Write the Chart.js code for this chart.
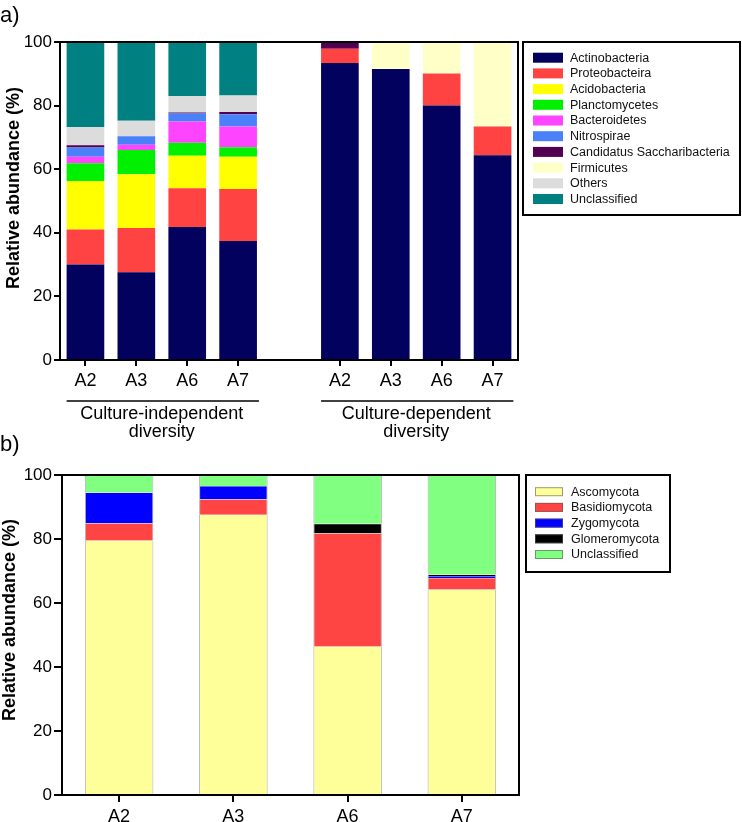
<!DOCTYPE html>
<html>
<head>
<meta charset="utf-8">
<script src="https://cdn.jsdelivr.net/npm/chart.js@4.4.1/dist/chart.umd.min.js"></script>
<style>
  html, body { margin: 0; padding: 0; background: #fff; }
  #wrapA { position: absolute; left: 0; top: 0; }
  #wrapB { position: absolute; left: 0; top: 425px; }
</style>
</head>
<body>
<div id="wrapA"><canvas id="bacteria-chart" width="742" height="445"></canvas></div>
<div id="wrapB"><canvas id="fungi-chart" width="742" height="397"></canvas></div>
<script>
const F = "'Liberation Sans', Arial, sans-serif";
Chart.defaults.font.family = F;
Chart.defaults.color = "#000";

// panel a data (blank category separates the two groups)
const bacteriaLabels = ["A2", "A3", "A6", "A7", "", "A2", "A3", "A6", "A7"];
const actinobacteria = [30, 27.6, 41.8, 37.4, null, 93.4, 91.5, 80, 64.4];
const proteobacteria = [11, 13.9, 12.2, 16.4, null, 4.5, 0, 10.1, 9];
const acidobacteria = [15.3, 16.9, 10.2, 10.1, null, 0, 0, 0, 0];
const planctomycetes = [5.6, 7.6, 4.1, 3.0, null, 0, 0, 0, 0];
const bacteroidetes = [2, 1.7, 6.7, 6.5, null, 0, 0, 0, 0];
const nitrospirae = [2.9, 2.7, 2.5, 3.9, null, 0, 0, 0, 0];
const candidatus = [0.7, 0, 0.3, 0.7, null, 2.1, 0, 0, 0];
const firmicutes = [0, 0, 0, 0, null, 0, 8.5, 9.9, 26.6];
const othersBac = [5.8, 4.8, 5.2, 5.2, null, 0, 0, 0, 0];
const unclassifiedBac = [26.7, 24.8, 17, 16.8, null, 0, 0, 0, 0];
const groupNames = [["Culture-independent", "diversity"], ["Culture-dependent", "diversity"]];

// panel b data
const fungiLabels = ["A2", "A3", "A6", "A7"];
const ascomycota = [79.5, 87.6, 46.4, 64.2];
const basidiomycota = [5.4, 4.8, 35.4, 3.6];
const zygomycota = [9.6, 4.2, 0, 0.6];
const glomeromycota = [0, 0, 3, 0.5];
const unclassifiedFun = [5.5, 3.4, 15.2, 31.1];

const yTicks = [0, 20, 40, 60, 80, 100];

const bacteriaData = {
  labels: bacteriaLabels,
  datasets: [
    { label: "Actinobacteria", data: actinobacteria, backgroundColor: "#02025e" },
    { label: "Proteobacteira", data: proteobacteria, backgroundColor: "#ff4242" },
    { label: "Acidobacteria", data: acidobacteria, backgroundColor: "#ffff00" },
    { label: "Planctomycetes", data: planctomycetes, backgroundColor: "#00f000" },
    { label: "Bacteroidetes", data: bacteroidetes, backgroundColor: "#ff44ff" },
    { label: "Nitrospirae", data: nitrospirae, backgroundColor: "#4a80f8" },
    { label: "Candidatus Saccharibacteria", data: candidatus, backgroundColor: "#520052" },
    { label: "Firmicutes", data: firmicutes, backgroundColor: "#ffffc8" },
    { label: "Others", data: othersBac, backgroundColor: "#dcdcdc" },
    { label: "Unclassified", data: unclassifiedBac, backgroundColor: "#008080" },
  ],
};

const fungiData = {
  labels: fungiLabels,
  datasets: [
    { label: "Ascomycota", data: ascomycota, backgroundColor: "#ffff99" },
    { label: "Basidiomycota", data: basidiomycota, backgroundColor: "#ff4444" },
    { label: "Zygomycota", data: zygomycota, backgroundColor: "#0000ff" },
    { label: "Glomeromycota", data: glomeromycota, backgroundColor: "#000000" },
    { label: "Unclassified", data: unclassifiedFun, backgroundColor: "#80ff80" },
  ],
};

// shared helpers for the drawn extras
function drawFrame(ctx, area) {
  ctx.save();
  ctx.strokeStyle = "#000";
  ctx.lineWidth = 2;
  ctx.beginPath();
  ctx.moveTo(area.left, area.top);
  ctx.lineTo(area.right, area.top);
  ctx.lineTo(area.right, area.bottom);
  ctx.stroke();
  ctx.restore();
}

function drawYTitle(ctx, x, y) {
  ctx.save();
  ctx.translate(x, y);
  ctx.rotate(-Math.PI / 2);
  ctx.font = "bold 18px " + F;
  ctx.fillStyle = "#000";
  ctx.textAlign = "center";
  ctx.textBaseline = "middle";
  ctx.fillText("Relative abundance (%)", 0, 0);
  ctx.restore();
}

function drawLegend(ctx, chart, box, sw) {
  ctx.save();
  ctx.strokeStyle = "#000";
  ctx.lineWidth = 2;
  ctx.strokeRect(box.x, box.y, box.w, box.h);
  ctx.font = "12.5px " + F;
  ctx.textBaseline = "middle";
  chart.data.datasets.forEach((ds, i) => {
    const cy = box.firstY + i * 15.7;
    ctx.fillStyle = ds.backgroundColor;
    ctx.fillRect(sw.x, cy - sw.h / 2, sw.w, sw.h);
    if (sw.border) {
      ctx.strokeStyle = "rgba(90,90,90,0.6)";
      ctx.lineWidth = 1;
      ctx.strokeRect(sw.x + 0.5, cy - sw.h / 2 + 0.5, sw.w - 1, sw.h - 1);
    }
    ctx.fillStyle = "#111";
    ctx.fillText(ds.label, sw.textX, cy + 0.5);
  });
  ctx.restore();
}

const decorA = {
  id: "decorA",
  afterDraw(chart) {
    const ctx = chart.ctx;
    const area = chart.chartArea;
    drawFrame(ctx, area);
    drawYTitle(ctx, 14, 188);

    ctx.save();
    ctx.fillStyle = "#000";
    ctx.font = "22px " + F;
    ctx.textBaseline = "middle";
    ctx.fillText("a)", 0, 16);

    // group brackets under the axis
    const bars = chart.getDatasetMeta(0).data;
    [[0, 3], [5, 8]].forEach((g, gi) => {
      const x1 = bars[g[0]].x - bars[g[0]].width / 2;
      const x2 = bars[g[1]].x + bars[g[1]].width / 2;
      ctx.strokeStyle = "#000";
      ctx.lineWidth = 1.5;
      ctx.beginPath();
      ctx.moveTo(x1, 401);
      ctx.lineTo(x2 + 2, 401);
      ctx.stroke();
      ctx.font = "18px " + F;
      ctx.textAlign = "center";
      ctx.fillText(groupNames[gi][0], (x1 + x2) / 2, 414);
      ctx.fillText(groupNames[gi][1], (x1 + x2) / 2, 432);
    });
    ctx.restore();

    drawLegend(ctx, chart, { x: 523, y: 42, w: 217, h: 173, firstY: 57.7 },
      { x: 533, w: 30, h: 10, textX: 570, border: false });
  },
};

const decorB = {
  id: "decorB",
  afterDraw(chart) {
    const ctx = chart.ctx;
    const area = chart.chartArea;
    drawFrame(ctx, area);
    drawYTitle(ctx, 10, 195);

    ctx.save();
    ctx.fillStyle = "#000";
    ctx.font = "22px " + F;
    ctx.textBaseline = "middle";
    ctx.fillText("b)", 0, 20);
    ctx.restore();

    drawLegend(ctx, chart, { x: 526, y: 50, w: 144, h: 97, firstY: 66.7 },
      { x: 535, w: 28, h: 9, textX: 571, border: true });
  },
};

function axisOptions(labels, xH, yW, tickX, tickY, yPad) {
  return {
    x: {
      stacked: true,
      grid: {
        drawOnChartArea: false,
        offset: false,
        tickLength: tickX,
        lineWidth: 2,
        tickColor: (c) => (labels[c.index] ? "#000" : "rgba(0,0,0,0)"),
      },
      border: { color: "#000", width: 2 },
      ticks: { font: { size: 18 }, padding: 4, maxRotation: 0, autoSkip: false },
      afterFit(s) { s.height = xH; },
    },
    y: {
      stacked: true,
      min: 0,
      max: 100,
      afterBuildTicks(s) { s.ticks = yTicks.map((v) => ({ value: v })); },
      grid: { drawOnChartArea: false, tickLength: tickY, lineWidth: 2, tickColor: "#000" },
      border: { color: "#000", width: 2 },
      ticks: { font: { size: 17 }, padding: yPad },
      afterFit(s) { s.width = yW; },
    },
  };
}

const bacteriaChart = new Chart(document.getElementById("bacteria-chart"), {
  type: "bar",
  data: bacteriaData,
  options: {
    responsive: false,
    animation: false,
    layout: { padding: { left: 0, top: 42, right: 224, bottom: 0 } },
    datasets: { bar: { categoryPercentage: 1, barPercentage: 0.74, borderWidth: 0 } },
    plugins: { legend: { display: false }, tooltip: { enabled: false } },
    scales: axisOptions(bacteriaLabels, 85, 60, 6, 6, 2),
  },
  plugins: [decorA],
});

const fungiChart = new Chart(document.getElementById("fungi-chart"), {
  type: "bar",
  data: fungiData,
  options: {
    responsive: false,
    animation: false,
    layout: { padding: { left: 0, top: 50, right: 223, bottom: 0 } },
    datasets: {
      bar: {
        categoryPercentage: 1,
        barPercentage: 0.6,
        borderWidth: { left: 1, right: 1, top: 0.5, bottom: 0 },
        borderColor: "rgba(100,100,100,0.5)",
        borderSkipped: false,
      },
    },
    plugins: { legend: { display: false }, tooltip: { enabled: false } },
    scales: axisOptions(fungiLabels, 27, 62, 7, 8, 2),
  },
  plugins: [decorB],
});
</script>
</body>
</html>
